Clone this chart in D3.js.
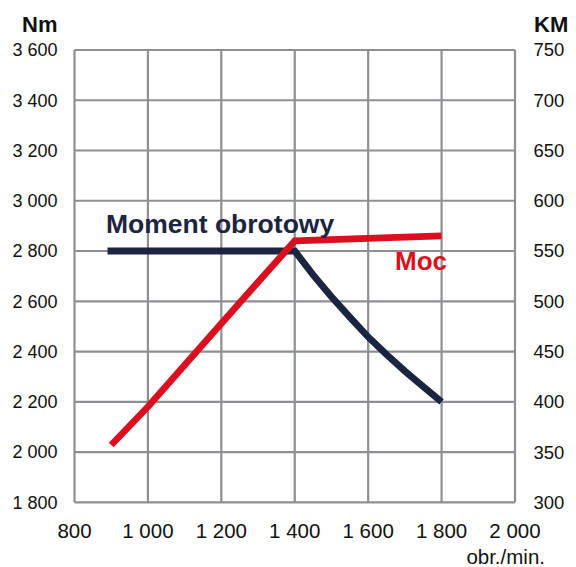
<!DOCTYPE html>
<html><head><meta charset="utf-8">
<script src="https://cdn.jsdelivr.net/npm/d3@7"></script>
<style>body{margin:0;background:#fff}svg{display:block}text{font-family:"Liberation Sans",Arial,sans-serif}</style>
</head><body>
<svg id="c" width="576" height="567"></svg>
<script>
const rpmTicks = [800, 1000, 1200, 1400, 1600, 1800, 2000];
const nmTicks = [1800, 2000, 2200, 2400, 2600, 2800, 3000, 3200, 3400, 3600];
const kmTicks = [300, 350, 400, 450, 500, 550, 600, 650, 700, 750];
const torqueRpm = [890, 1400, 1450, 1500, 1550, 1600, 1650, 1700, 1750, 1800];
const torqueNm  = [2800, 2800, 2705, 2618, 2537, 2458, 2388, 2322, 2260, 2200];
const powerRpm = [900, 1000, 1200, 1400, 1800];
const powerKm  = [357, 395, 478, 560, 565];
const fmtSp = v => { const s = String(v); return s.length > 3 ? s.slice(0, s.length-3) + " " + s.slice(-3) : s; };

const svg = d3.select("#c");
const x = d3.scaleLinear().domain([800, 2000]).range([74.5, 515]);
const yL = d3.scaleLinear().domain([1800, 3600]).range([502.3, 50]);
const yR = d3.scaleLinear().domain([300, 750]).range([502.3, 50]);
const grid = "#8c8f93";

const g = svg.append("g");
g.selectAll("line.v").data(rpmTicks).join("line")
  .attr("x1", d => x(d)).attr("x2", d => x(d)).attr("y1", yL(3600)).attr("y2", yL(1800))
  .attr("stroke", grid).attr("stroke-width", 2.2);
g.selectAll("line.h").data(nmTicks).join("line").attr("class","h")
  .attr("x1", x(800)).attr("x2", x(2000)).attr("y1", d => yL(d)).attr("y2", d => yL(d))
  .attr("stroke", grid).attr("stroke-width", 2.2);

svg.append("g").selectAll("text").data(nmTicks).join("text")
  .attr("x", 57.5).attr("y", d => yL(d)).attr("dy", "0.35em").attr("text-anchor", "end")
  .attr("font-size", 18).attr("fill", "#111").text(fmtSp);
svg.append("g").selectAll("text").data(kmTicks).join("text")
  .attr("x", 533.5).attr("y", d => yR(d)).attr("dy", "0.35em").attr("text-anchor", "start")
  .attr("font-size", 18.5).attr("fill", "#111").text(d => d);
svg.append("g").selectAll("text").data(rpmTicks).join("text")
  .attr("x", d => x(d)).attr("y", 538).attr("text-anchor", "middle")
  .attr("font-size", 20.5).attr("fill", "#111").text(fmtSp);

svg.append("text").attr("x", 57.5).attr("y", 32).attr("text-anchor", "end")
  .attr("font-size", 22).attr("font-weight", "bold").attr("fill", "#111").text("Nm");
svg.append("text").attr("x", 534).attr("y", 32).attr("text-anchor", "start")
  .attr("font-size", 22).attr("font-weight", "bold").attr("fill", "#111").text("KM");
svg.append("text").attr("x", 545).attr("y", 564).attr("text-anchor", "end")
  .attr("font-size", 20.5).attr("fill", "#111").text("obr./min.");

const navy = "#1b2440", red = "#da1020";
const torque = torqueRpm.map((r, i) => [r, torqueNm[i]]);
const power = powerRpm.map((r, i) => [r, powerKm[i]]);
svg.append("path").datum(torque)
  .attr("d", d3.line().x(d => x(d[0])).y(d => yL(d[1])))
  .attr("fill", "none").attr("stroke", navy).attr("stroke-width", 6.8);
svg.append("path").datum(power)
  .attr("d", d3.line().x(d => x(d[0])).y(d => yR(d[1])))
  .attr("fill", "none").attr("stroke", red).attr("stroke-width", 6.8);

svg.append("text").attr("x", 106).attr("y", 233).attr("font-size", 26.5).attr("font-weight", "bold")
  .attr("fill", navy).text("Moment obrotowy");
svg.append("text").attr("x", 395).attr("y", 270).attr("font-size", 26).attr("font-weight", "bold")
  .attr("fill", red).text("Moc");
</script>
</body></html>
